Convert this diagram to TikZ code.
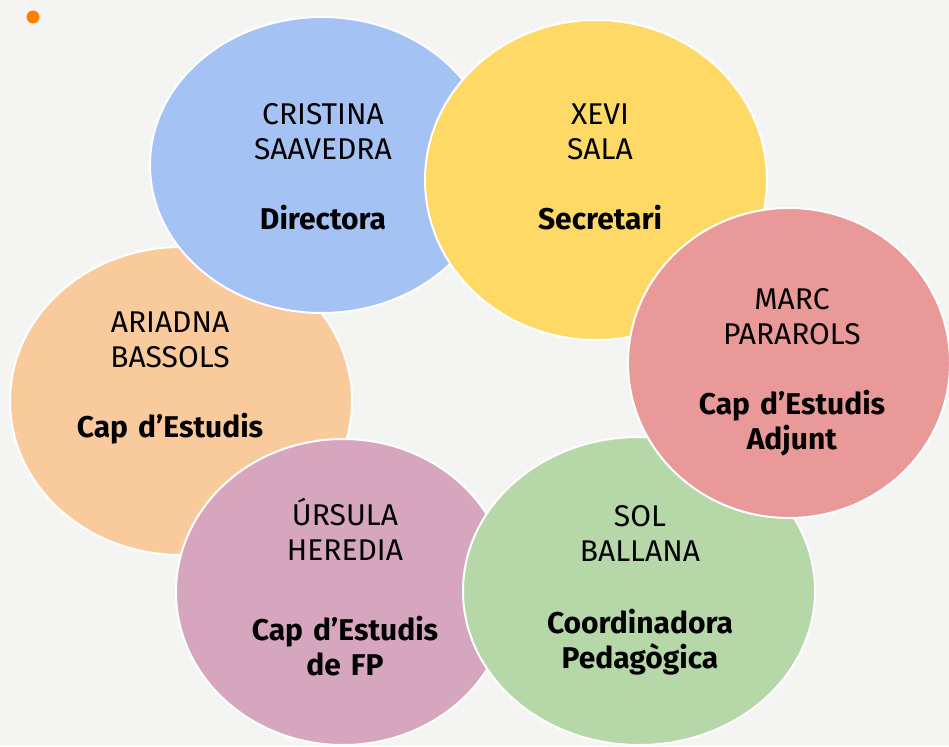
\documentclass[tikz,border=0pt]{standalone}
\usepackage{fontspec}
\setmainfont{Fira Sans}
\usepackage{tikz}
\usetikzlibrary{shapes.geometric}
\definecolor{paper}{HTML}{F4F4F2}
\definecolor{dotorange}{HTML}{FF7F00}
\definecolor{cblue}{HTML}{A4C2F4}
\definecolor{cyellow}{HTML}{FFD966}
\definecolor{corange}{HTML}{F9CB9C}
\definecolor{cred}{HTML}{EA9999}
\definecolor{cpurple}{HTML}{D5A6BD}
\definecolor{cgreen}{HTML}{B6D7A8}
\tikzstyle{Bubble}=[ellipse, draw=white, line width=2pt, inner sep=0pt]
\tikzstyle{Label}=[text width=240, align=center, font=\fontsize{30}{35}\selectfont]

\begin{document}
\begin{tikzpicture}[x=1pt, y=-1pt]
    \fill[paper] (0,0) rectangle (949,746);
    \useasboundingbox (0,0) rectangle (949,746);
    \fill[dotorange] (33,17) circle (6.5pt);

    \path
    (181,401) node[Bubble, fill=corange, minimum width=342, minimum height=308] (ariadna) {}
    (322,165) node[Bubble, fill=cblue, minimum width=344, minimum height=296] (cristina) {}
    (596,180) node[Bubble, fill=cyellow, minimum width=342, minimum height=320] (xevi) {}
    (343,592) node[Bubble, fill=cpurple, minimum width=334, minimum height=306] (ursula) {}
    (639,591) node[Bubble, fill=cgreen, minimum width=352, minimum height=308] (sol) {}
    (789,363) node[Bubble, fill=cred, minimum width=322, minimum height=310] (marc) {};

    \node[Label] (cristinatext) at (323,167) {CRISTINA\\SAAVEDRA\\[35pt]\textbf{Directora}};
    \node[Label] (xevitext) at (600,167) {XEVI\\SALA\\[35pt]\textbf{Secretari}};
    \node[Label] (ariadnatext) at (170,378) {ARIADNA\\BASSOLS\\[35pt]\textbf{Cap d’Estudis}};
    \node[Label] (marctext) at (792,372) {MARC\\PARAROLS\\[35pt]\textbf{Cap d’Estudis}\\\textbf{Adjunt}};
    \node[Label] (ursulatext) at (345,587) {ÚRSULA\\HEREDIA\\[45pt]\textbf{Cap d’Estudis}\\\textbf{de FP}};
    \node[Label] (soltext) at (640,590) {SOL\\BALLANA\\[37pt]\textbf{Coordinadora}\\\textbf{Pedagògica}};
\end{tikzpicture}
\end{document}
